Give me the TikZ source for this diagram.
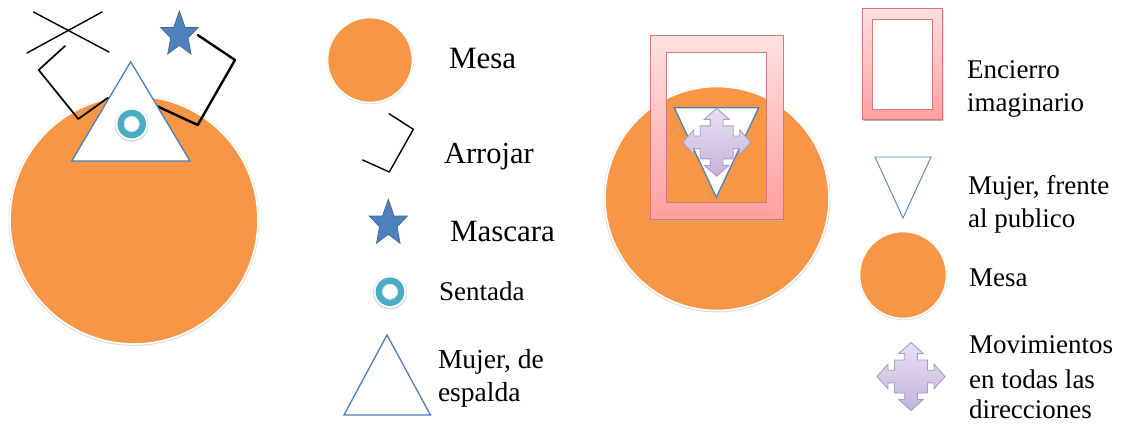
\documentclass[tikz,border=0pt]{standalone}
\usepackage{fontspec}
\setmainfont{Liberation Serif}
\definecolor{mesaor}{HTML}{F79646}
\definecolor{triblue}{HTML}{4A7EBB}
\definecolor{starblue}{HTML}{4F81BD}
\definecolor{stardraw}{HTML}{3F6797}
\definecolor{ringteal}{HTML}{4BACC6}
\definecolor{frameedge}{HTML}{D57878}
\definecolor{frametop}{HTML}{FFE0E0}
\definecolor{framebot}{HTML}{FF9F9F}
\definecolor{arrowtop}{HTML}{E8E0F2}
\definecolor{arrowbot}{HTML}{C6B4DC}
\definecolor{arrowedge}{HTML}{AC9AC8}
\tikzset{
  x=1pt,y=-1pt,
  mesa/.style={fill=mesaor,draw=white,line width=1.6pt},
  halo/.style={fill=black!13,draw=none},
  woman/.style={fill=white,draw=triblue,line width=1.3pt,line join=miter},
  throwline/.style={draw=black,line width=1.7pt,line join=round,line cap=round},
  label/.style={anchor=base west,inner sep=0pt,outer sep=0pt,align=left},
  starmark/.pic={
    \draw[fill=starblue,draw=stardraw,line width=.7pt,line join=miter]
      (0,-1)--(.29,-.309)--(.951,-.309)--(.44,.13)--(.588,.809)--(0,.44)
      --(-.588,.809)--(-.44,.13)--(-.951,-.309)--(-.29,-.309)--cycle;
  },
  ringmark/.pic={
    \fill[black!14] (0,.8) circle[radius=17];
    \fill[white] (0,0) circle[radius=16];
    \fill[ringteal,even odd rule] (0,0) circle[radius=14.3] (0,0) circle[radius=8];
    \draw[black!14,line width=.6pt] (0,0) circle[radius=7.4];
  },
  crossarrow/.pic={
    \shade[top color=arrowtop,bottom color=arrowbot,draw=arrowedge,line width=.9pt,line join=miter]
      (0,-34)--(12.3,-23)--(6.3,-23)--(6.3,-16.5)--(16.5,-16.5)--(16.5,-6.3)--(23,-6.3)--(23,-12.3)
      --(34,0)--(23,12.3)--(23,6.3)--(16.5,6.3)--(16.5,16.5)--(6.3,16.5)--(6.3,23)--(12.3,23)
      --(0,34)--(-12.3,23)--(-6.3,23)--(-6.3,16.5)--(-16.5,16.5)--(-16.5,6.3)--(-23,6.3)--(-23,12.3)
      --(-34,0)--(-23,-12.3)--(-23,-6.3)--(-16.5,-6.3)--(-16.5,-16.5)--(-6.3,-16.5)--(-6.3,-23)--(-12.3,-23)--cycle;
  }
}
\newcommand{\penframe}[8]{%
  \fill[black!30,even odd rule] (#1+.6,#2+1.6) rectangle (#3+.6,#4+1.6) (#5,#6) rectangle (#7,#8);
  \shade[top color=frametop,bottom color=framebot,even odd rule]
     (#1,#2) rectangle (#3,#4) (#5,#6) rectangle (#7,#8);
  \draw[frameedge,line width=.8pt] (#1,#2) rectangle (#3,#4);
  \draw[frameedge,line width=1pt] (#5,#6) rectangle (#7,#8);
}
\begin{document}
\begin{tikzpicture}
\useasboundingbox (0,0) rectangle (1121,423);
% left scene
\fill[halo] (134,220.5) circle[radius=125.5];
\draw[mesa] (134,220) circle[radius=124];
\draw[line width=1.4pt,line cap=round] (33.5,12)--(109,52);
\draw[line width=1.4pt,line cap=round] (102,12)--(27,53);
\draw[throwline] (65,46)--(38.7,70)--(78.3,119)--(108,97.7);
\draw[throwline,line width=2.4pt] (197.7,35)--(235,60)--(197.7,125)--(156.7,106);
\draw[woman] (130.7,61.7)--(190,161)--(71.7,161)--cycle;
\pic at (131.7,124) {ringmark};
\pic[xscale=19.8,yscale=23.8] at (179.4,34.8) {starmark};
% left legend
\fill[halo] (370,60.7) circle[radius=43.5];
\draw[mesa] (370,60) circle[radius=42.5];
\node[label,font=\fontsize{31}{31}\selectfont] (t1) at (449,68) {Mesa};
\draw[throwline,line width=1.4pt] (389,113.7)--(413.3,129.3)--(389.3,172)--(362.7,160);
\node[label,font=\fontsize{30.5}{31}\selectfont] (t2) at (444,163) {Arrojar};
\pic[xscale=20,yscale=24.3] at (388.3,223.6) {starmark};
\node[label,font=\fontsize{31}{31}\selectfont] (t3) at (450,241.7) {Mascara};
\pic at (390,291.7) {ringmark};
\node[label,font=\fontsize{27}{27}\selectfont] (t4) at (439,300) {Sentada};
\draw[woman] (387,335)--(430.5,415)--(344,415)--cycle;
\node[label,font=\fontsize{27.5}{33}\selectfont] (t5) at (438,368) {Mujer, de};
\node[label,font=\fontsize{27.5}{33}\selectfont] (t5b) at (438,401) {espalda};
% middle scene
\fill[halo] (717,199) circle[radius=113.5];
\draw[mesa] (717,198.5) circle[radius=112];
\penframe{650}{35.7}{783.3}{219}{666.7}{52.7}{766.7}{202}
\draw[woman,draw=starblue] (674.3,107.7)--(758.7,107.7)--(716.3,197.3)--cycle;
\pic at (716.7,142.3) {crossarrow};
% right legend
\penframe{862.7}{8.3}{942.7}{119.3}{872.7}{19}{932.3}{109}
\node[label,font=\fontsize{27}{33}\selectfont] (t6) at (967,78) {Encierro};
\node[label,font=\fontsize{27}{33}\selectfont] (t6b) at (967,111.7) {imaginario};
\draw[woman,draw=starblue,line width=.9pt] (875,157)--(931,157)--(903,218)--cycle;
\node[label,font=\fontsize{27}{33}\selectfont] (t7) at (968,194) {Mujer, frente};
\node[label,font=\fontsize{27}{33}\selectfont] (t7b) at (968,227) {al publico};
\fill[halo] (903,275.7) circle[radius=44.5];
\draw[mesa] (903,275) circle[radius=43.5];
\node[label,font=\fontsize{27}{33}\selectfont] (t8) at (969,286) {Mesa};
\pic at (911,376.5) {crossarrow};
\node[label,font=\fontsize{27}{33}\selectfont] (t9) at (969,353) {Movimientos};
\node[label,font=\fontsize{27}{33}\selectfont] (t9b) at (969,388) {en todas las};
\node[label,font=\fontsize{27}{33}\selectfont] (t9c) at (969,418) {direcciones};
\end{tikzpicture}
\end{document}
